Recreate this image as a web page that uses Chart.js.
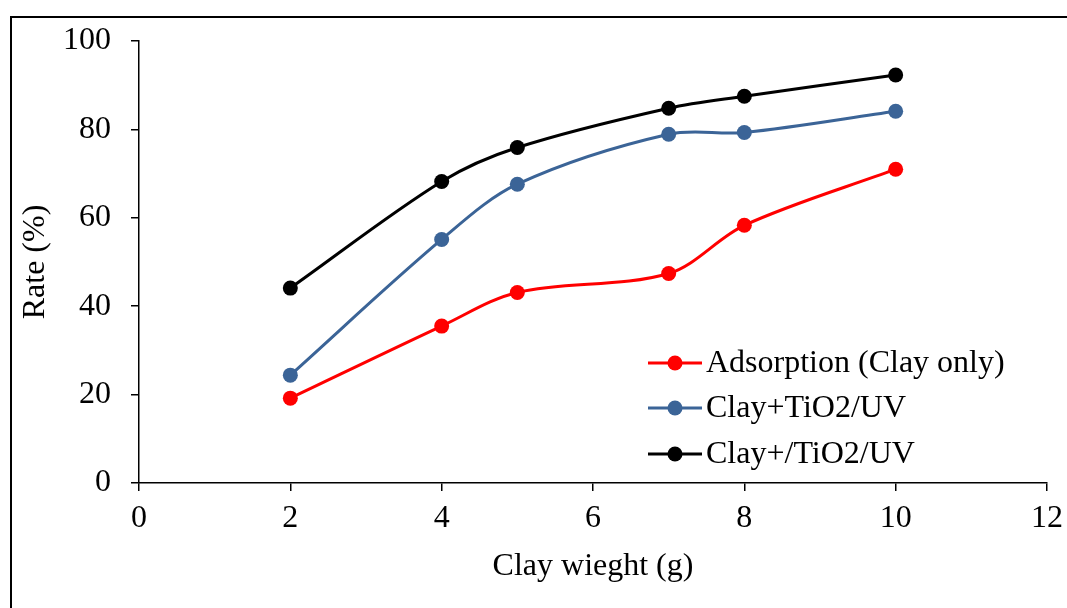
<!DOCTYPE html>
<html>
<head>
<meta charset="utf-8">
<script src="https://cdn.jsdelivr.net/npm/chart.js@4/dist/chart.umd.min.js"></script>
<style>
  html, body { margin: 0; padding: 0; background: #fff; overflow: hidden; }
  #frame { position: absolute; left: 10px; top: 16px; width: 1100px; height: 700px; border: 2px solid #000; box-sizing: border-box; }
  #c { position: absolute; left: 0; top: 0; }
</style>
</head>
<body>
<div id="frame"></div>
<canvas id="c" width="1067" height="608"></canvas>
<script>
const clayWeight = [2, 4, 5, 7, 8, 10];
const adsorption = [19.2, 35.5, 43.1, 47.4, 58.3, 71.0];
const clayTiO2UV = [24.4, 55.1, 67.6, 78.9, 79.3, 84.1];
const clayTiO2UV2 = [44.1, 68.2, 75.9, 84.8, 87.5, 92.3];
const seriesLabels = ['Adsorption (Clay only)', 'Clay+TiO2/UV', 'Clay+/TiO2/UV'];
const seriesColors = ['#FF0000', '#3B6497', '#000000'];
const xTitle = 'Clay wieght (g)';
const yTitle = 'Rate (%)';

const FONT = 'Liberation Serif, Times New Roman, serif';

function toPts(ys) { return clayWeight.map((x, i) => ({ x: x, y: ys[i] })); }

const allSeries = [adsorption, clayTiO2UV, clayTiO2UV2];
const datasets = allSeries.map((s, i) => ({
  label: seriesLabels[i],
  data: toPts(s),
  borderColor: seriesColors[i],
  backgroundColor: seriesColors[i],
  pointBackgroundColor: seriesColors[i],
  pointBorderColor: seriesColors[i],
  borderWidth: 3,
  pointRadius: 7.5,
  pointBorderWidth: 0,
  tension: 0.33,
  fill: false
}));

const legendPlugin = {
  id: 'lineLegend',
  afterDatasetsDraw(chart) {
    const ctx = chart.ctx;
    const ca = chart.chartArea;
    const x0 = ca.left + 509, lineLen = 54, textGap = 4;
    const rows = [ca.top + 322, ca.top + 367, ca.top + 413];
    ctx.save();
    chart.data.datasets.forEach((ds, i) => {
      const y = rows[i];
      ctx.strokeStyle = ds.borderColor;
      ctx.lineWidth = 3;
      ctx.beginPath();
      ctx.moveTo(x0, y);
      ctx.lineTo(x0 + lineLen, y);
      ctx.stroke();
      ctx.fillStyle = ds.borderColor;
      ctx.beginPath();
      ctx.arc(x0 + lineLen / 2, y, 7.5, 0, Math.PI * 2);
      ctx.fill();
      ctx.fillStyle = '#000';
      ctx.font = '32px ' + FONT;
      ctx.textAlign = 'left';
      ctx.textBaseline = 'middle';
      ctx.fillText(ds.label, x0 + lineLen + textGap, y + 1);
    });
    ctx.restore();
  }
};

new Chart(document.getElementById('c'), {
  type: 'line',
  data: { datasets: datasets },
  plugins: [legendPlugin],
  options: {
    responsive: false,
    animation: false,
    layout: { padding: { left: 0, top: 41, right: 20, bottom: 0 } },
    plugins: { legend: { display: false }, tooltip: { enabled: false } },
    scales: {
      x: {
        type: 'linear',
        min: 0, max: 12,
        ticks: { stepSize: 2, color: '#000', font: { family: FONT, size: 32 }, padding: 8 },
        grid: { drawOnChartArea: false, drawTicks: true, tickLength: 8, color: '#000', lineWidth: 1.5 },
        border: { display: true, color: '#000', width: 1.5 },
        title: { display: true, text: xTitle, color: '#000', font: { family: FONT, size: 32 }, padding: { top: 0, bottom: 22 } },
        afterFit(scale) { scale.height = 125; scale.paddingRight = 0; scale.paddingLeft = 0; }
      },
      y: {
        type: 'linear',
        min: 0, max: 100,
        ticks: { stepSize: 20, color: '#000', font: { family: FONT, size: 32 }, padding: 20 },
        grid: { drawOnChartArea: false, drawTicks: true, tickLength: 8, color: '#000', lineWidth: 1.5 },
        border: { display: true, color: '#000', width: 1.5 },
        title: { display: true, text: yTitle, color: '#000', font: { family: FONT, size: 32 }, padding: { top: 16, bottom: 0 } },
        afterFit(scale) { scale.width = 139; scale.paddingTop = 0; scale.paddingBottom = 0; }
      }
    }
  }
});
</script>
</body>
</html>
